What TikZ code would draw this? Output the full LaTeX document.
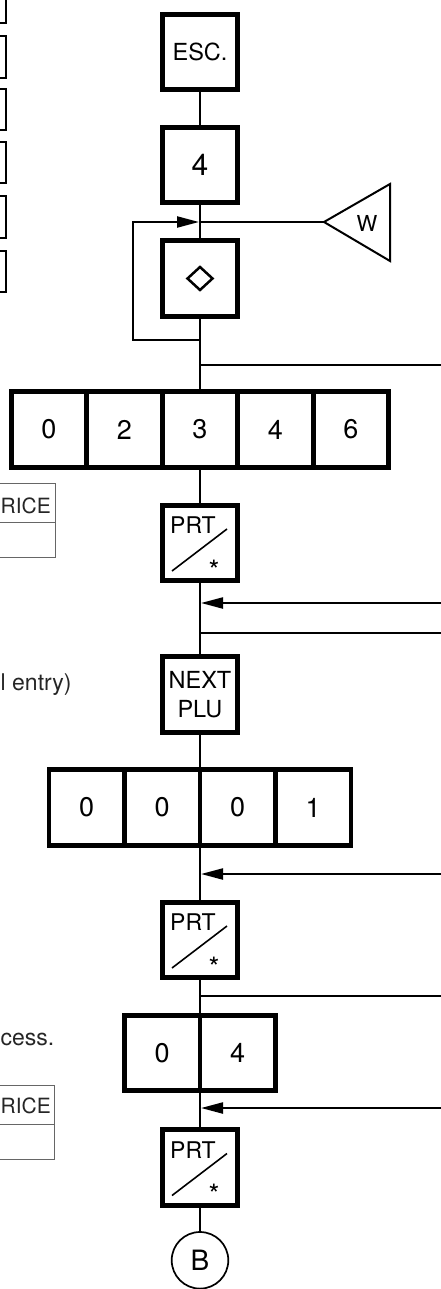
\documentclass[tikz,border=0pt]{standalone}
\usepackage{fontspec}
\setmainfont{TeX Gyre Heros}
\usetikzlibrary{arrows.meta,calc}
\begin{document}
\begin{tikzpicture}[x=1pt,y=-1pt,
  keybox/.style={draw, line width=4.6pt, minimum width=75.5pt, minimum height=75.5pt,
    inner sep=0pt, font=\fontsize{23.5}{28.5}\selectfont, align=center},
  digit/.style={keybox, font=\fontsize{27}{30}\selectfont},
  conn/.style={line width=2.2pt},
  arr/.style={conn, -{Triangle[length=22pt,width=11pt]}, shorten >=1pt},
  side/.style={font=\fontsize{23}{28}\selectfont, text=black!85, inner sep=0pt, anchor=base west},
  tbl/.style={draw=black!60, line width=1pt},
  partbox/.style={draw, line width=2pt},
  smallt/.style={font=\fontsize{23}{28}\selectfont, inner sep=0pt, anchor=base west},
  star/.style={font=\fontsize{28}{30}\selectfont, inner sep=0pt, anchor=base}
]
\useasboundingbox (0,0) rectangle (441,1289);

% partial boxes at the left edge
\draw[partbox] (-50,-20) rectangle (6,23);
\draw[partbox] (-50,36) rectangle (6,78);
\draw[partbox] (-50,89) rectangle (6,130);
\draw[partbox] (-50,142) rectangle (6,183);
\draw[partbox] (-50,196) rectangle (6,238);
\draw[partbox] (-50,251) rectangle (6,292);

% partial tables and texts at the left edge
\draw[tbl] (-60,483) rectangle (55.5,557);
\draw[tbl] (-60,522) -- (55.5,522);
\node[side, font=\fontsize{21}{26}\selectfont] (t1) at (0.5,513) {RICE};
\node[side] (t2) at (0.5,690) {l entry)};
\node[side] (t3) at (0.5,1045) {cess.};
\draw[tbl] (-60,1085) rectangle (54,1159);
\draw[tbl] (-60,1124) -- (54,1124);
\node[side, font=\fontsize{21}{26}\selectfont] (t4) at (0.5,1113) {RICE};

% keys
\node[keybox] (esc) at (200,52) {ESC.};
\node[keybox, font=\fontsize{30}{32}\selectfont] (k4) at (200,165) {4};
\node[keybox] (dia) at (200,278.5) {};
\draw[line width=2.5pt, line join=miter] ($(dia.center)+(0,-11.5)$) -- ++(12.5,11.5) -- ++(-12.5,11.5) -- ++(-12.5,-11.5) -- cycle;

\foreach \t [count=\i] in {0,2,3,4,6}
  \node[digit] (d\i) at ({200+(\i-3)*75.5},429.5) {\t};

\newcommand{\prtkey}[2]{%
  \node[keybox] (#1) at (200,#2) {};
  \node[smallt] at ($(#1.center)+(-30,-9.5)$) {PRT};
  \draw[line width=1.6pt] ($(#1.center)+(-28,28)$) -- ($(#1.center)+(27,-14)$);
  \node[star] at ($(#1.center)+(14,37)$) {*};
}
\prtkey{p1}{543}
\node[keybox] (np) at (200,694.5) {NEXT\\PLU};
\foreach \t [count=\i] in {0,0,0,1}
  \node[digit] (e\i) at ({200+(\i-2.5)*75.5},807.5) {\t};
\prtkey{p2}{940}
\foreach \t [count=\i] in {0,4}
  \node[digit] (f\i) at ({200+(\i-1.5)*75.5},1053) {\t};
\prtkey{p3}{1167.5}
\node[draw, circle, line width=1.7pt, minimum size=56.6pt, inner sep=0pt,
  font=\fontsize{28}{30}\selectfont] (B) at (200,1260.3) {B};

% main vertical chain
\draw[conn] (esc) -- (k4);
\draw[conn] (k4) -- (dia);
\draw[conn] (dia) -- (d3);
\draw[conn] (d3) -- (p1);
\draw[conn] (p1) -- (np);
\draw[conn] (np.south) -- (np.south |- e2.north);
\draw[conn] (p2.north |- e2.south) -- (p2.north);
\draw[conn] (p2.south) -- (p2.south |- f1.north);
\draw[conn] (p3.north |- f1.south) -- (p3.north);
\draw[conn] (p3) -- (B);

% loop and W triangle
\coordinate (lt) at (200,222);
\coordinate (lb) at (200,340);
\draw[arr] (lb) -- ++(-67,0) |- (lt);
\coordinate (wt) at (324,222);
\draw[conn] (lt) -- (wt);
\draw[line width=2pt] (wt) -- (390,184) -- (390,261) -- cycle;
\node[font=\fontsize{22}{24}\selectfont, inner sep=0pt] (wl) at (367,223) {W};

% right side connectors
\coordinate (j1) at (200,365);  \coordinate (r1) at (441,365);
\coordinate (j2) at (200,603);  \coordinate (r2) at (441,603);
\coordinate (j3) at (200,633);  \coordinate (r3) at (441,633);
\coordinate (j4) at (200,874);  \coordinate (r4) at (441,874);
\coordinate (j5) at (200,996);  \coordinate (r5) at (441,996);
\coordinate (j6) at (200,1108); \coordinate (r6) at (441,1108);
\draw[conn] (j1) -- (r1);
\draw[arr] (r2) -- (j2);
\draw[conn] (j3) -- (r3);
\draw[arr] (r4) -- (j4);
\draw[conn] (j5) -- (r5);
\draw[arr] (r6) -- (j6);
\end{tikzpicture}
\end{document}
